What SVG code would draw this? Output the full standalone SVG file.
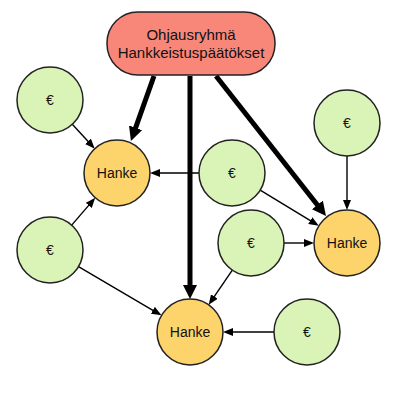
<svg xmlns="http://www.w3.org/2000/svg" width="406" height="400" viewBox="0 0 406 400">
<style>
.lbl{font-family:"Liberation Sans",Arial,sans-serif;font-size:14px;fill:#111;text-anchor:middle;dominant-baseline:central}
.title{font-size:15px}
.money{fill:#d9f4b6;stroke:#222;stroke-width:1.5}
.proj{fill:#fdd46c;stroke:#222;stroke-width:1.5}
.thick{stroke:#000;stroke-width:5;fill:none;marker-end:url(#ah)}
.thin{stroke:#000;stroke-width:1.4;fill:none;marker-end:url(#as)}
</style>
<defs>
<marker id="ah" markerUnits="userSpaceOnUse" markerWidth="14" markerHeight="14" refX="3" refY="7" orient="auto"><path d="M0,0 L14,7 L0,14 z" fill="#000"/></marker>
<marker id="as" markerUnits="userSpaceOnUse" markerWidth="10" markerHeight="8" refX="2" refY="4" orient="auto"><path d="M0,0 L10,4 L0,8 z" fill="#000"/></marker>
</defs>
<rect width="406" height="400" fill="#fff"/>
<g id="connectors">
<line class="thick" x1="154" y1="76" x2="134.6" y2="130.6"/>
<line class="thick" x1="190" y1="76" x2="190" y2="288"/>
<line class="thick" x1="216" y1="76" x2="319.2" y2="207.3"/>
<line class="thin" x1="72.3" y1="124.3" x2="89.3" y2="142.8"/>
<line class="thin" x1="199" y1="173" x2="158" y2="173"/>
<line class="thin" x1="260.2" y1="190.2" x2="312" y2="221.6"/>
<line class="thin" x1="347" y1="156" x2="347" y2="202"/>
<line class="thin" x1="284" y1="243" x2="306" y2="243"/>
<line class="thin" x1="232.3" y1="270.2" x2="213.2" y2="298.2"/>
<line class="thin" x1="71.7" y1="225.1" x2="90" y2="203.9"/>
<line class="thin" x1="78.5" y1="266.7" x2="154.6" y2="311.3"/>
<line class="thin" x1="274" y1="332" x2="231" y2="332"/>
</g>
<g id="ohjausryhma">
<rect x="107" y="12" width="168" height="63" rx="31" ry="31" fill="#f8877a" stroke="#222" stroke-width="1.5"/>
<text class="lbl title" x="191" y="34">Ohjausryhmä</text>
<text class="lbl title" x="191" y="52">Hankkeistuspäätökset</text>
</g>
<g id="hanke1"><circle class="proj" cx="117" cy="173" r="33"/><text class="lbl" x="117" y="173">Hanke</text></g>
<g id="hanke2"><circle class="proj" cx="347" cy="243" r="33"/><text class="lbl" x="347" y="243">Hanke</text></g>
<g id="hanke3"><circle class="proj" cx="190" cy="332" r="33"/><text class="lbl" x="190" y="332">Hanke</text></g>
<g id="raha1"><circle class="money" cx="50" cy="100" r="33"/><text class="lbl" x="50" y="100">€</text></g>
<g id="raha2"><circle class="money" cx="347" cy="123" r="33"/><text class="lbl" x="347" y="123">€</text></g>
<g id="raha3"><circle class="money" cx="232" cy="173" r="33"/><text class="lbl" x="232" y="173">€</text></g>
<g id="raha4"><circle class="money" cx="251" cy="243" r="33"/><text class="lbl" x="251" y="243">€</text></g>
<g id="raha5"><circle class="money" cx="50" cy="250" r="33"/><text class="lbl" x="50" y="250">€</text></g>
<g id="raha6"><circle class="money" cx="307" cy="332" r="33"/><text class="lbl" x="307" y="332">€</text></g>
</svg>
